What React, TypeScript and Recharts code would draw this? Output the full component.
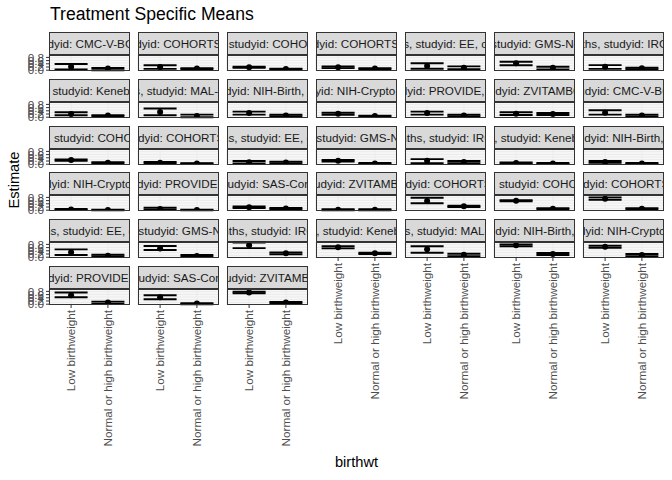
import React from "react";
import { ComposedChart, Scatter, ErrorBar, XAxis, YAxis, CartesianGrid } from "recharts";

// x categories
const birthwtLevels = ["Low birthweight", "Normal or high birthweight"];

// facet labels (one entry per panel, facet_wrap order)
const agecat = [
  ...Array(13).fill("0-6 months"),
  ...Array(12).fill("6-24 months"),
  ...Array(13).fill("0-24 months"),
];
const studyid = [
  "CMC-V-BCS-2002", "COHORTS", "COHORTS", "COHORTS", "EE", "GMS-Nepal", "IRC",
  "Keneba", "MAL-ED", "NIH-Birth", "NIH-Crypto", "PROVIDE", "ZVITAMBO",
  "CMC-V-BCS-2002", "COHORTS", "COHORTS", "EE", "GMS-Nepal", "IRC", "Keneba",
  "NIH-Birth", "NIH-Crypto", "PROVIDE", "SAS-CompFeed", "ZVITAMBO",
  "COHORTS", "COHORTS", "COHORTS", "EE", "GMS-Nepal", "IRC", "Keneba",
  "MAL-ED", "NIH-Birth", "NIH-Crypto", "PROVIDE", "SAS-CompFeed", "ZVITAMBO",
];
const country = [
  "INDIA", "GUATEMALA", "INDIA", "PHILIPPINES", "PAKISTAN", "NEPAL", "INDIA",
  "GAMBIA", "INDIA", "BANGLADESH", "BANGLADESH", "BANGLADESH", "ZIMBABWE",
  "INDIA", "INDIA", "PHILIPPINES", "PAKISTAN", "NEPAL", "INDIA", "GAMBIA",
  "BANGLADESH", "BANGLADESH", "BANGLADESH", "INDIA", "ZIMBABWE",
  "GUATEMALA", "INDIA", "PHILIPPINES", "PAKISTAN", "NEPAL", "INDIA", "GAMBIA",
  "INDIA", "BANGLADESH", "BANGLADESH", "BANGLADESH", "INDIA", "ZIMBABWE",
];

// Low birthweight: estimate and CI
const lowEst = [
  0.22, 0.2, 0.18, 0.18, 0.26, 0.43, 0.22, 0.2, 0.33, 0.26, 0.22, 0.26, 0.22,
  0.28, 0.26, 0.09, 0.12, 0.22, 0.22, 0.07, 0.14, 0.05, 0.08, 0.18, 0.03,
  0.57, 0.59, 0.72, 0.31, 0.55, 0.75, 0.62, 0.49, 0.74, 0.66, 0.56, 0.43, 0.73,
];
const lowLo = [
  0.05, 0.08, 0.15, 0.13, 0.09, 0.31, 0.08, 0.12, 0.12, 0.16, 0.15, 0.16, 0.14,
  0.16, 0.22, 0.05, 0.05, 0.17, 0.07, 0.03, 0.08, 0.02, 0.03, 0.14, 0.0,
  0.43, 0.55, 0.65, 0.14, 0.45, 0.57, 0.55, 0.28, 0.68, 0.58, 0.43, 0.31, 0.68,
];
const lowHi = [
  0.39, 0.31, 0.22, 0.23, 0.43, 0.53, 0.32, 0.31, 0.54, 0.35, 0.28, 0.35, 0.31,
  0.43, 0.3, 0.14, 0.2, 0.26, 0.32, 0.11, 0.2, 0.08, 0.15, 0.23, 0.06,
  0.78, 0.63, 0.8, 0.49, 0.7, 0.91, 0.68, 0.68, 0.8, 0.72, 0.73, 0.56, 0.78,
];

// Normal or high birthweight: estimate and CI
const normEst = [
  0.1, 0.1, 0.08, 0.1, 0.15, 0.16, 0.12, 0.1, 0.08, 0.1, 0.08, 0.1, 0.2,
  0.1, 0.09, 0.05, 0.11, 0.05, 0.14, 0.05, 0.05, 0.01, 0.01, 0.1, 0.03,
  0.24, 0.09, 0.09, 0.09, 0.08, 0.24, 0.24, 0.15, 0.2, 0.14, 0.1, 0.04, 0.1,
];
const normLo = [
  0.0, 0.07, 0.05, 0.07, 0.07, 0.05, 0.07, 0.07, 0.0, 0.05, 0.05, 0.05, 0.14,
  0.03, 0.06, 0.03, 0.05, 0.02, 0.07, 0.02, 0.02, 0.0, 0.0, 0.05, 0.0,
  0.2, 0.05, 0.05, 0.05, 0.01, 0.18, 0.2, 0.07, 0.14, 0.07, 0.03, 0.0, 0.05,
];
const normHi = [
  0.14, 0.13, 0.1, 0.13, 0.24, 0.22, 0.15, 0.13, 0.16, 0.15, 0.1, 0.15, 0.26,
  0.15, 0.12, 0.07, 0.15, 0.08, 0.2, 0.08, 0.08, 0.03, 0.03, 0.14, 0.06,
  0.28, 0.13, 0.13, 0.15, 0.14, 0.3, 0.28, 0.22, 0.26, 0.2, 0.16, 0.07, 0.14,
];

const yTicks = [0, 0.2, 0.4, 0.6, 0.8];
const yGrid = [0, 0.1, 0.2, 0.3, 0.4, 0.5, 0.6, 0.7, 0.8, 0.9];

const FONT = "'Liberation Sans', Arial, sans-serif";
const NCOL = 7;
const PW = 81;
const PH = 16;
const STRIP = 23;
const AXW = 50;
const AXH = 160;
const TOPM = 12;
const XPAD = 22.1;

function RotTick(props: any) {
  const { x, y, payload } = props;
  return (
    <text
      x={x}
      y={y}
      transform={`rotate(-90, ${x}, ${y})`}
      textAnchor="end"
      dy="0.35em"
      fill="#4D4D4D"
      fontSize={11.7}
      fontFamily={FONT}
    >
      {payload.value}
    </text>
  );
}

const dot = (p: any) => <circle cx={p.cx} cy={p.cy} r={3} fill="#000" />;

function Panel({ i }: { i: number }) {
  const col = i % NCOL;
  const row = Math.floor(i / NCOL);
  const left = 49 + col * 89;
  const top = 55 + row * 46.75;
  const showY = col === 0;
  const showX = row === 5 || (row === 4 && col >= 3);
  const data = [
    { birthwt: birthwtLevels[0], est: lowEst[i], err: [lowEst[i] - lowLo[i], lowHi[i] - lowEst[i]] },
    { birthwt: birthwtLevels[1], est: normEst[i], err: [normEst[i] - normLo[i], normHi[i] - normEst[i]] },
  ];
  const label = `agecat: ${agecat[i]}, studyid: ${studyid[i]}, country: ${country[i]}`;
  return (
    <>
      <div
        style={{
          position: "absolute", left, top: top - STRIP, width: PW, height: STRIP,
          background: "#D9D9D9", border: "1px solid #333", boxSizing: "border-box",
          display: "flex", justifyContent: "center", alignItems: "center", overflow: "hidden",
          whiteSpace: "nowrap", fontFamily: FONT, fontSize: 11.7, color: "#1A1A1A",
        }}
      >
        <span style={{ flexShrink: 0 }}>{label}</span>
      </div>
      <div style={{ position: "absolute", left: left - AXW, top: top - TOPM }}>
        <ComposedChart
          width={AXW + PW}
          height={TOPM + PH + AXH}
          data={data}
          margin={{ top: TOPM, right: 0, left: showY ? 0 : AXW, bottom: showX ? 0 : AXH }}
        >
          <CartesianGrid stroke="#EBEBEB" fill="#FFFFFF" horizontalValues={yGrid} strokeWidth={1} />
          <XAxis
            dataKey="birthwt"
            type="category"
            scale="point"
            hide={!showX}
            height={AXH}
            interval={0}
            padding={{ left: XPAD, right: XPAD }}
            tickSize={3}
            tickMargin={2}
            axisLine={false}
            tickLine={{ stroke: "#333" }}
            tick={<RotTick />}
          />
          <YAxis
            hide={!showY}
            width={AXW}
            type="number"
            domain={[-0.05, 0.95]}
            allowDataOverflow
            ticks={yTicks}
            interval={0}
            tickFormatter={(v: number) => v.toFixed(1)}
            tickSize={3}
            tickMargin={2}
            axisLine={false}
            tickLine={{ stroke: "#333" }}
            tick={{ fill: "#4D4D4D", fontSize: 11.7, fontFamily: FONT }}
          />
          <Scatter dataKey="est" isAnimationActive={false} shape={dot}>
            <ErrorBar dataKey="err" direction="y" width={16.5} stroke="#000" strokeWidth={1.9} />
          </Scatter>
        </ComposedChart>
      </div>
      <div
        style={{
          position: "absolute", left, top, width: PW, height: PH,
          border: "1px solid #333", boxSizing: "border-box", pointerEvents: "none",
        }}
      />
    </>
  );
}

export default function App() {
  return (
    <div
      style={{
        position: "absolute", left: 0, top: 0, width: 672, height: 480,
        background: "#fff", fontFamily: FONT, overflow: "hidden",
      }}
    >
      <div style={{ position: "absolute", left: 50, top: 6, fontSize: 17.6, lineHeight: 1, color: "#000" }}>
        Treatment Specific Means
      </div>
      {studyid.map((_, i) => (
        <Panel key={i} i={i} />
      ))}
      <div
        style={{
          position: "absolute", left: 14 - 50, top: 180 - 9, width: 100, height: 18,
          textAlign: "center", fontSize: 14.67, lineHeight: "18px", color: "#000",
          transform: "rotate(-90deg)",
        }}
      >
        Estimate
      </div>
      <div
        style={{
          position: "absolute", left: 356.5 - 50, top: 454.6, width: 100,
          textAlign: "center", fontSize: 14.67, lineHeight: 1, color: "#000",
        }}
      >
        birthwt
      </div>
    </div>
  );
}
